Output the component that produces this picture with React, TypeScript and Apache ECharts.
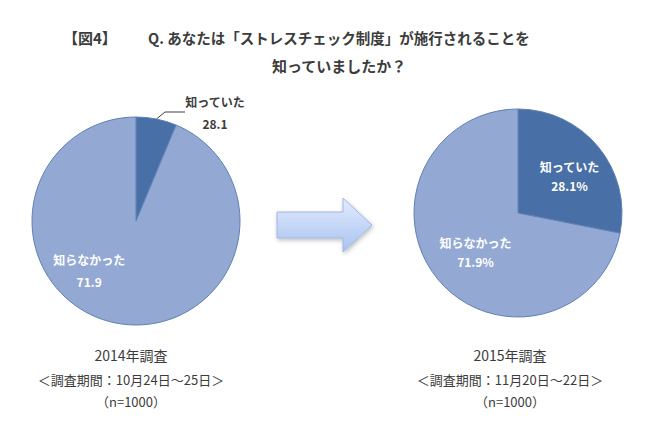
import React, { useEffect, useRef } from "react";
import * as echarts from "echarts";

const categories = ["知っていた", "知らなかった"];
// slice sizes as drawn in the picture
const values2014 = [6.3, 93.7];
const labels2014 = ["28.1", "71.9"];
const values2015 = [28.1, 71.9];
const labels2015 = ["28.1%", "71.9%"];

const titleLine1 = "Q. あなたは「ストレスチェック制度」が施行されることを";
const titleLine2 = "知っていましたか？";
const figLabel = "【図4】";
const caption2014 = ["2014年調査", "＜調査期間：10月24日～25日＞", "（n=1000）"];
const caption2015 = ["2015年調査", "＜調査期間：11月20日～22日＞", "（n=1000）"];

const FONT = "'Noto Sans CJK JP', 'Noto Sans', sans-serif";
const DARK = "#4870a6";
const LIGHT = "#93a9d3";
const TEXT = "#3c3c3c";

export default function App() {
  const ref = useRef<HTMLDivElement>(null);
  useEffect(() => {
    document.body.style.margin = "0";
    const chart = echarts.init(ref.current!, null, { renderer: "svg" });
    const colors = [DARK, LIGHT];
    const caption = (lines: string[], cx: number) =>
      lines.map((t, i) => ({
        type: "text",
        x: cx,
        y: [355, 379, 401][i],
        style: {
          text: t,
          fill: TEXT,
          font: `${i === 0 ? 14 : 13}px ${FONT}`,
          textAlign: "center",
          textVerticalAlign: "middle",
        },
      }));
    chart.setOption({
      animation: false,
      backgroundColor: "#ffffff",
      graphic: [
        {
          type: "text",
          x: 63,
          y: 37,
          style: { text: figLabel, fill: TEXT, font: `bold 15px ${FONT}`, textVerticalAlign: "middle" },
        },
        {
          type: "text",
          x: 148,
          y: 37,
          style: { text: titleLine1, fill: TEXT, font: `bold 14.5px ${FONT}`, textVerticalAlign: "middle" },
        },
        {
          type: "text",
          x: 339,
          y: 65,
          style: {
            text: titleLine2,
            fill: TEXT,
            font: `bold 15px ${FONT}`,
            textAlign: "center",
            textVerticalAlign: "middle",
          },
        },
        {
          type: "polygon",
          shape: {
            points: [
              [277, 212],
              [343, 212],
              [343, 198],
              [372, 225],
              [343, 252],
              [343, 238],
              [277, 238],
            ],
          },
          style: {
            fill: new echarts.graphic.LinearGradient(0, 0, 0, 1, [
              { offset: 0, color: "#e3ecfd" },
              { offset: 1, color: "#a8c2f0" },
            ]),
            stroke: "#9fb8e4",
            lineWidth: 1,
            shadowBlur: 4,
            shadowOffsetX: 1,
            shadowOffsetY: 2,
            shadowColor: "rgba(0,0,0,0.25)",
          },
        },
        ...caption(caption2014, 131),
        ...caption(caption2015, 510),
      ],
      series: [
        {
          type: "pie",
          center: [136, 221],
          radius: [0, 104],
          startAngle: 90,
          clockwise: true,
          silent: true,
          itemStyle: { borderColor: "#5f80b4", borderWidth: 1 },
          data: categories.map((n, i) => ({
            name: n,
            value: values2014[i],
            itemStyle: { color: colors[i] },
            label:
              i === 0
                ? {
                    show: true,
                    position: "outside",
                    color: TEXT,
                    align: "center",
                  }
                : { show: true, position: "inside", color: "#ffffff" },
            labelLine:
              i === 0
                ? { show: true, length: 6, length2: 20, lineStyle: { color: "#404040", width: 1 } }
                : { show: false },
          })),
          label: {
            fontFamily: FONT,
            fontWeight: "bold",
            fontSize: 12,
            lineHeight: 22,
            formatter: (p: any) => `${p.name}\n${labels2014[p.dataIndex]}`,
          },
          labelLayout: (p: any) =>
            p.dataIndex === 0
              ? { x: 215, y: 112, align: "center", verticalAlign: "middle" }
              : { dx: -36, dy: -4 },
        },
        {
          type: "pie",
          center: [518, 213],
          radius: [0, 104],
          startAngle: 90,
          clockwise: true,
          silent: true,
          itemStyle: { borderColor: "#5f80b4", borderWidth: 1 },
          data: categories.map((n, i) => ({
            name: n,
            value: values2015[i],
            itemStyle: { color: colors[i] },
          })),
          label: {
            show: true,
            position: "inside",
            color: "#ffffff",
            fontFamily: FONT,
            fontWeight: "bold",
            fontSize: 12,
            lineHeight: 19,
            formatter: (p: any) => `${p.name}\n${labels2015[p.dataIndex]}`,
          },
          labelLayout: (p: any) => (p.dataIndex === 0 ? { dx: 9, dy: -2 } : { dx: 0, dy: 4 }),
          labelLine: { show: false },
        },
      ],
    });
    return () => chart.dispose();
  }, []);
  return <div ref={ref} style={{ width: 650, height: 428 }} />;
}
